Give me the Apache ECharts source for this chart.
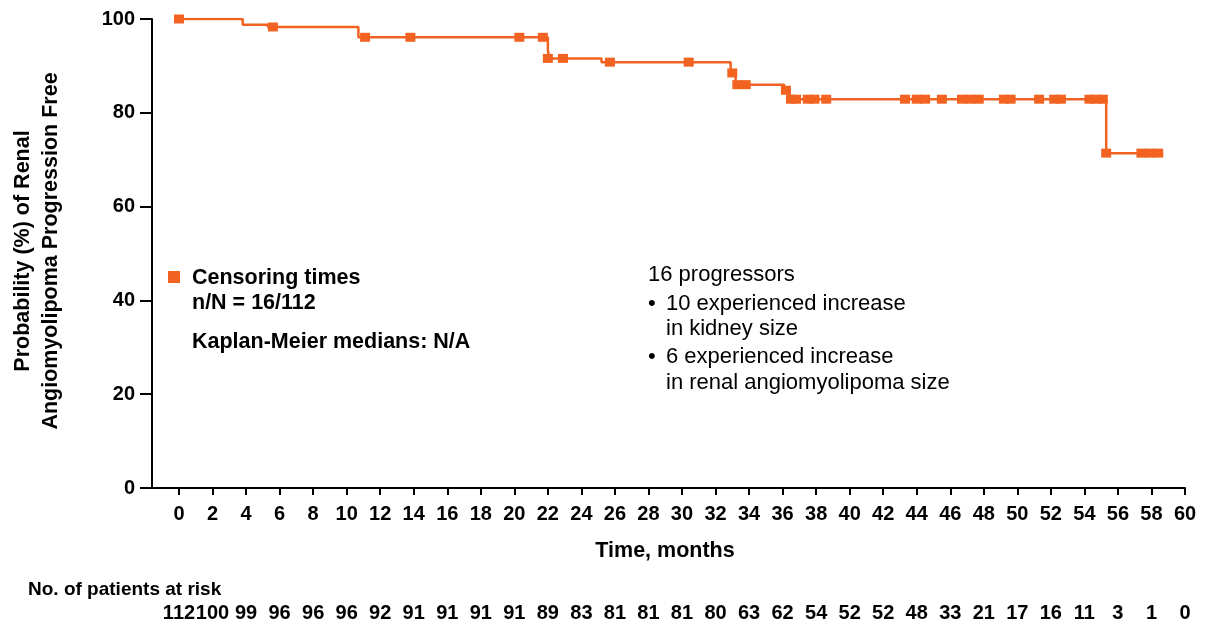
<!DOCTYPE html>
<html><head><meta charset="utf-8">
<script src="https://cdn.jsdelivr.net/npm/echarts@6/dist/echarts.min.js"></script>
<style>html,body{margin:0;padding:0;background:#fff}#c{width:1215px;height:631px}</style>
</head><body><div id="c"></div>
<script>
// Kaplan-Meier step curve (time in months, probability %)
const kmTimes = [0, 3.8, 5.3, 10.7, 22.0, 22.1, 25.2, 32.9, 33.2, 36.1, 36.4, 55.3, 58.7];
const kmSurv  = [100, 98.8, 98.3, 96.1, 93.3, 91.6, 90.8, 88.5, 86.0, 84.8, 82.9, 71.4, 71.4];

// Censoring marks
const censorTimes = [0, 5.6, 11.1, 13.8, 20.3, 21.7, 22.0, 22.9, 25.7, 30.4,
  33.0, 33.3, 33.8, 36.2,
  36.5, 36.8, 37.5, 37.9, 38.6, 43.3, 44.0, 44.5, 45.5, 46.7, 47.2, 47.7, 49.2, 49.6, 51.3, 52.2, 52.6, 54.3, 54.7, 55.1,
  55.3, 57.4, 57.9, 58.4];
const censorSurv = [100, 98.3, 96.1, 96.1, 96.1, 96.1, 91.6, 91.6, 90.8, 90.8,
  88.5, 86.0, 86.0, 84.8,
  82.9, 82.9, 82.9, 82.9, 82.9, 82.9, 82.9, 82.9, 82.9, 82.9, 82.9, 82.9, 82.9, 82.9, 82.9, 82.9, 82.9, 82.9, 82.9, 82.9,
  71.4, 71.4, 71.4, 71.4];

// Axis ticks
const xTicks = [0, 2, 4, 6, 8, 10, 12, 14, 16, 18, 20, 22, 24, 26, 28, 30, 32, 34, 36, 38, 40, 42, 44, 46, 48, 50, 52, 54, 56, 58, 60];
const yTicks = [0, 20, 40, 60, 80, 100];

// Number at risk at each x tick
const atRisk = [112, 100, 99, 96, 96, 96, 92, 91, 91, 91, 91, 89, 83, 81, 81, 81, 80, 63, 62, 54, 52, 52, 48, 33, 21, 17, 16, 11, 3, 1, 0];

const ORANGE = '#F26322';
const FONT = '"Liberation Sans", Arial, Helvetica, sans-serif';

const chart = echarts.init(document.getElementById('c'), null, {renderer: 'canvas'});

const kmData = kmTimes.map((t, i) => [t, kmSurv[i]]);
const censorData = censorTimes.map((t, i) => [t, censorSurv[i]]);

function txt(x, y, text, opts) {
  opts = opts || {};
  return {
    type: 'text', x: x, y: y, rotation: opts.rotation || 0, silent: true,
    style: {
      text: text,
      fontFamily: FONT,
      fontSize: opts.size || 21.5,
      fontWeight: opts.weight || 'bold',
      fill: '#000',
      align: opts.align || 'left',
      verticalAlign: 'middle'
    }
  };
}

const option = {
  animation: false,
  backgroundColor: '#fff',
  grid: {left: 152, right: 30, top: 19, bottom: 143},
  xAxis: [{
    type: 'value', min: -1.61, max: 60,
    axisLine: {show: true, onZero: false, lineStyle: {color: '#000', width: 2}},
    axisTick: {show: true, customValues: xTicks, length: 7, lineStyle: {color: '#000', width: 2}},
    axisLabel: {show: true, customValues: xTicks, color: '#000', fontFamily: FONT, fontSize: 20, fontWeight: 'bold', margin: 16},
    splitLine: {show: false}
  }, {
    type: 'value', min: -1.61, max: 60, position: 'bottom', offset: 110,
    axisLine: {show: false},
    axisTick: {show: false},
    axisLabel: {show: true, customValues: xTicks, color: '#000', fontFamily: FONT, fontSize: 20, fontWeight: 'bold', margin: 5,
      formatter: function (v) { const i = Math.round(v / 2); return atRisk[i] === undefined ? '' : String(atRisk[i]); }},
    splitLine: {show: false}
  }],
  yAxis: {
    type: 'value', min: 0, max: 100, interval: 20,
    axisLine: {show: true, onZero: false, lineStyle: {color: '#000', width: 2}},
    axisTick: {show: true, length: 12, lineStyle: {color: '#000', width: 2}},
    axisLabel: {color: '#000', fontFamily: FONT, fontSize: 20, fontWeight: 'bold', margin: 17},
    splitLine: {show: false}
  },
  series: [{
    type: 'line', step: 'end', data: kmData, showSymbol: false, xAxisIndex: 0,
    lineStyle: {color: ORANGE, width: 2.5}, itemStyle: {color: ORANGE}, z: 2
  }, {
    type: 'scatter', data: censorData, symbol: 'rect', symbolSize: [10, 9], xAxisIndex: 0,
    itemStyle: {color: ORANGE, opacity: 1}, z: 3
  }],
  graphic: [
    {type: 'rect', silent: true, shape: {x: 168, y: 271, width: 12, height: 12}, style: {fill: ORANGE}},
    txt(192, 278, 'Censoring times'),
    txt(192, 303, 'n/N = 16/112'),
    txt(192, 342, 'Kaplan-Meier medians: N/A'),
    txt(648, 275, '16 progressors', {weight: 'normal', size: 22}),
    txt(648, 304, '•', {weight: 'normal', size: 22}),
    txt(666, 304, '10 experienced increase', {weight: 'normal', size: 22}),
    txt(666, 329, 'in kidney size', {weight: 'normal', size: 22}),
    txt(648, 357, '•', {weight: 'normal', size: 22}),
    txt(666, 357, '6 experienced increase', {weight: 'normal', size: 22}),
    txt(666, 383, 'in renal angiomyolipoma size', {weight: 'normal', size: 22}),
    txt(665, 551, 'Time, months', {align: 'center'}),
    txt(23, 251, 'Probability (%) of Renal', {align: 'center', rotation: Math.PI / 2}),
    txt(51, 251, 'Angiomyolipoma Progression Free', {align: 'center', rotation: Math.PI / 2}),
    txt(28, 590, 'No. of patients at risk', {size: 19})
  ]
};
chart.setOption(option);
</script>
</body></html>
